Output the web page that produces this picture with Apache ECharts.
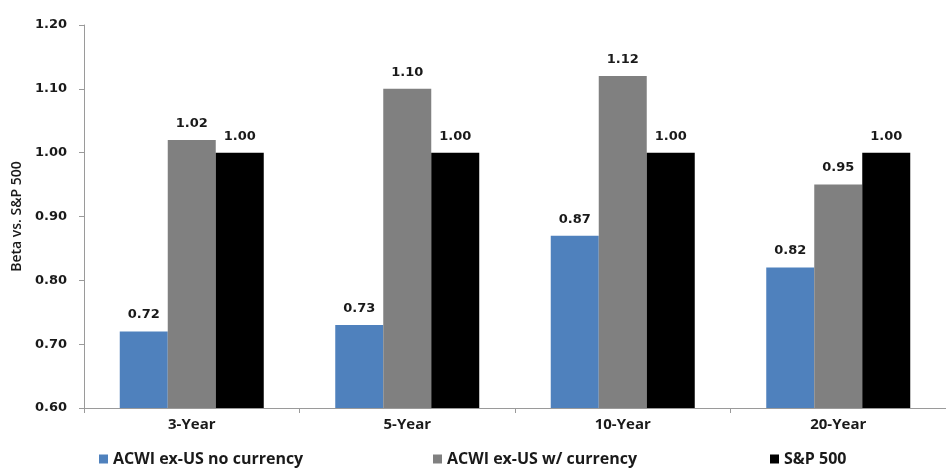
<!DOCTYPE html>
<html>
<head>
<meta charset="utf-8">
<script src="https://cdn.jsdelivr.net/npm/echarts@6/dist/echarts.min.js"></script>
<style>
  html, body { margin: 0; padding: 0; background: #fff; }
  #chart { width: 946px; height: 468px; }
</style>
</head>
<body>
<div id="chart"></div>
<script>
// periods and betas
var periods = ['3-Year', '5-Year', '10-Year', '20-Year'];
var noCurrency = [0.72, 0.73, 0.87, 0.82];
var withCurrency = [1.02, 1.10, 1.12, 0.95];
var sp500 = [1.00, 1.00, 1.00, 1.00];
var seriesNames = ['ACWI ex-US no currency', 'ACWI ex-US w/ currency', 'S&P 500'];
var seriesColors = ['#4f81bd', '#808080', '#000000'];

var myChart = echarts.init(document.getElementById('chart'));

var labelFont = {
    fontFamily: 'DejaVu Sans',
    fontWeight: 'bold',
    fontSize: 13,
    color: '#1a1a1a',
};

function barSeries(i, data) {
    return {
        name: seriesNames[i],
        type: 'bar',
        data: data,
        barWidth: 48,
        barGap: '0%',
        itemStyle: { color: seriesColors[i] },
        label: {
            show: true,
            position: 'top',
            distance: 10,
            formatter: function (p) { return p.value.toFixed(2); },
            ...labelFont,
        },
    };
}

function legendAt(i, left) {
    return {
        data: [seriesNames[i]],
        left: left,
        top: 446,
        icon: 'rect',
        itemWidth: 9,
        itemHeight: 9,
        itemGap: 5,
        textStyle: {
            fontFamily: 'Open Sans',
            fontWeight: 'bold',
            fontSize: 16,
            color: '#1a1a1a',
        },
    };
}

var option = {
    animation: false,
    grid: {
        left: 84,
        top: 25,
        width: 872,
        height: 383,
    },
    legend: [legendAt(0, 94), legendAt(1, 428), legendAt(2, 765)],
    xAxis: {
        type: 'category',
        data: periods,
        axisLine: { lineStyle: { color: '#9a9a9a' } },
        axisTick: { show: true, length: 5, lineStyle: { color: '#9a9a9a' } },
        axisLabel: {
            margin: 9,
            fontFamily: 'Open Sans',
            fontWeight: 'bold',
            fontSize: 15,
            color: '#1a1a1a',
        },
    },
    yAxis: {
        type: 'value',
        min: 0.6,
        max: 1.2,
        interval: 0.1,
        name: 'Beta vs. S&P 500',
        nameLocation: 'middle',
        nameGap: 60,
        nameTextStyle: {
            fontFamily: 'Open Sans',
            fontWeight: 600,
            fontSize: 14,
            color: '#1a1a1a',
        },
        splitLine: { show: false },
        axisLine: { show: true, lineStyle: { color: '#9a9a9a' } },
        axisTick: { show: true, length: 5, lineStyle: { color: '#9a9a9a' } },
        axisLabel: {
            margin: 17,
            formatter: function (v) { return v.toFixed(2); },
            ...labelFont,
        },
    },
    series: [
        barSeries(0, noCurrency),
        barSeries(1, withCurrency),
        barSeries(2, sp500),
    ],
};

myChart.setOption(option);
</script>
</body>
</html>
